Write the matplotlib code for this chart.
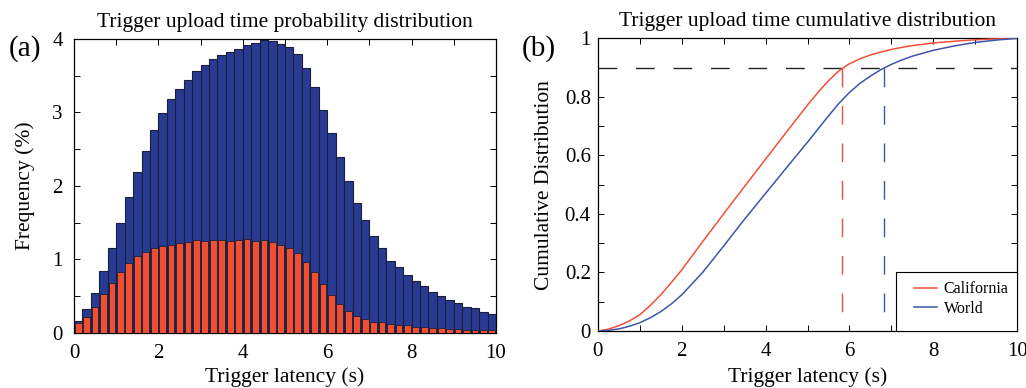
import numpy as np
import matplotlib
matplotlib.use("Agg")
import matplotlib.pyplot as plt
from matplotlib.patches import Rectangle

# ---------------- data ----------------
latency_bins = np.arange(0.1, 10.0, 0.2)  # histogram bin centres (s)
world_freq = [0.16, 0.32, 0.54, 0.84, 1.15, 1.50, 1.85, 2.19, 2.48, 2.76,
              2.99, 3.18, 3.32, 3.44, 3.56, 3.65, 3.73, 3.78, 3.82, 3.87,
              3.92, 3.95, 3.98, 3.97, 3.93, 3.89, 3.79, 3.61, 3.35, 3.03,
              2.72, 2.39, 2.07, 1.77, 1.54, 1.32, 1.16, 0.98, 0.89, 0.79,
              0.70, 0.63, 0.55, 0.50, 0.44, 0.40, 0.35, 0.33, 0.28, 0.25]
california_freq = [0.13, 0.22, 0.35, 0.53, 0.68, 0.83, 0.95, 1.05, 1.10, 1.15,
                   1.18, 1.20, 1.22, 1.23, 1.26, 1.25, 1.26, 1.26, 1.25, 1.26,
                   1.27, 1.25, 1.26, 1.24, 1.20, 1.16, 1.08, 0.96, 0.82, 0.66,
                   0.51, 0.39, 0.30, 0.23, 0.19, 0.15, 0.14, 0.12, 0.11, 0.10,
                   0.08, 0.08, 0.07, 0.06, 0.05, 0.045, 0.04, 0.035, 0.03, 0.03]

cdf_x = [0, 0.25, 0.5, 0.75, 1, 1.25, 1.5, 1.75, 2, 2.5, 3, 3.5, 4, 4.5, 5,
         5.25, 5.5, 5.75, 6, 6.25, 6.5, 6.75, 7, 7.25, 7.5, 8, 8.5, 9, 9.5, 10]
cdf_california = [0, 0.006, 0.018, 0.034, 0.055, 0.087, 0.123, 0.165, 0.208,
                  0.305, 0.400, 0.494, 0.587, 0.680, 0.772, 0.815, 0.855, 0.889,
                  0.913, 0.930, 0.943, 0.953, 0.962, 0.969, 0.975, 0.984,
                  0.990, 0.995, 0.998, 1.0]
cdf_world = [0, 0.002, 0.007, 0.016, 0.028, 0.045, 0.066, 0.092, 0.123,
             0.200, 0.290, 0.382, 0.470, 0.558, 0.645, 0.690, 0.735, 0.778,
             0.815, 0.846, 0.871, 0.893, 0.911, 0.926, 0.939, 0.959, 0.974,
             0.986, 0.994, 1.0]
cdf_level = 0.9
p90_california = 5.83
p90_world = 6.82

series_labels = ["California", "World"]

# ---------------- style ----------------
plt.rcParams['font.family'] = ['Liberation Serif', 'DejaVu Serif']
FS = 15.5
TICK_FS = 15

c_world_bar = '#283a92'
c_cal_bar = '#f04e30'
c_edge = '#1a1f3c'
c_red = '#f0503a'
c_blue = '#3d55aa'

fig = plt.figure(figsize=(10.26, 3.88), dpi=100)
ax1 = fig.add_axes([74/1026, 1-332.7/388, 422/1026, 293.7/388])
ax2 = fig.add_axes([597.7/1026, 1-331/388, 419.6/1026, 292.7/388])

def style(ax, ypad):
    for s in ax.spines.values():
        s.set_linewidth(0.9)
        s.set_color('black')
    ax.tick_params(which='both', direction='in', top=True, right=True,
                   length=4, width=0.7, labelsize=TICK_FS, colors='black')
    ax.tick_params(axis='x', which='both', pad=8)
    ax.tick_params(axis='y', which='both', pad=ypad)

# ---------------- (a) histogram ----------------
ax1.bar(latency_bins, world_freq, width=0.2, color=c_world_bar,
        edgecolor=c_edge, linewidth=0.8, zorder=2)
ax1.bar(latency_bins, california_freq, width=0.16, color=c_cal_bar,
        edgecolor=c_edge, linewidth=0.6, zorder=3)
ax1.set_xlim(0, 10)
ax1.set_ylim(0, 4)
ax1.set_xticks(np.arange(0, 11, 2))
ax1.set_xticks(np.arange(1, 10, 2), minor=True)
ax1.set_yticks(np.arange(0, 5, 1))
ax1.set_yticks(np.arange(0.5, 4, 1), minor=True)
style(ax1, 8)
ax1.set_title('Trigger upload time probability distribution', fontsize=FS, pad=8.5)
ax1.set_xlabel('Trigger latency (s)', fontsize=FS)
ax1.set_ylabel('Frequency (%)', fontsize=FS)
ax1.xaxis.set_label_coords(0.5, -0.117)
ax1.yaxis.set_label_coords(-0.092, 0.5)

# ---------------- (b) CDF ----------------
ax2.plot(cdf_x, cdf_california, color=c_red, lw=1.1, label=series_labels[0], zorder=3)
ax2.plot(cdf_x, cdf_world, color=c_blue, lw=1.1, label=series_labels[1], zorder=3)
ax2.plot([0, 10], [cdf_level, cdf_level], color='#222222', lw=1.0,
         dashes=(13.5, 13.5), zorder=2)
ax2.plot([p90_california, p90_california], [cdf_level, 0], color=c_red, lw=1.0,
         dashes=(13.5, 13.5), zorder=2)
ax2.plot([p90_world, p90_world], [cdf_level, 0], color=c_blue, lw=1.0,
         dashes=(13.5, 13.5), zorder=2)
ax2.set_xlim(0, 10)
ax2.set_ylim(0, 1)
ax2.set_xticks(np.arange(0, 11, 2))
ax2.set_xticks(np.arange(1, 10, 2), minor=True)
ax2.set_yticks(np.arange(0, 1.01, 0.2))
ax2.set_yticks(np.arange(0.1, 1.0, 0.2), minor=True)
ax2.set_yticklabels(['0', '0.2', '0.4', '0.6', '0.8', '1'])
style(ax2, 5)
ax2.set_title('Trigger upload time cumulative distribution', fontsize=FS, pad=8.5)
ax2.set_xlabel('Trigger latency (s)', fontsize=FS)
ax2.set_ylabel('Cumulative Distribution', fontsize=FS)
ax2.xaxis.set_label_coords(0.5, -0.125)
ax2.yaxis.set_label_coords(-0.104, 0.5)

# legend: box + frameless legend
ax2.add_patch(Rectangle((0.711, 0.0), 0.289, 0.2, transform=ax2.transAxes,
                        facecolor='white', edgecolor='black', lw=0.8, zorder=4))
leg = ax2.legend(loc='center left', bbox_to_anchor=(0.754, 0.109), frameon=False,
                 fontsize=11.5, borderpad=0, borderaxespad=0, handlelength=1.45,
                 handletextpad=0.4, labelspacing=0.2)
leg.set_zorder(5)

fig.text(9/1026, 1-56/388, '(a)', fontsize=21, va='baseline', ha='left')
fig.text(522/1026, 1-56/388, '(b)', fontsize=21, va='baseline', ha='left')

fig.savefig('out.png', dpi=100)
